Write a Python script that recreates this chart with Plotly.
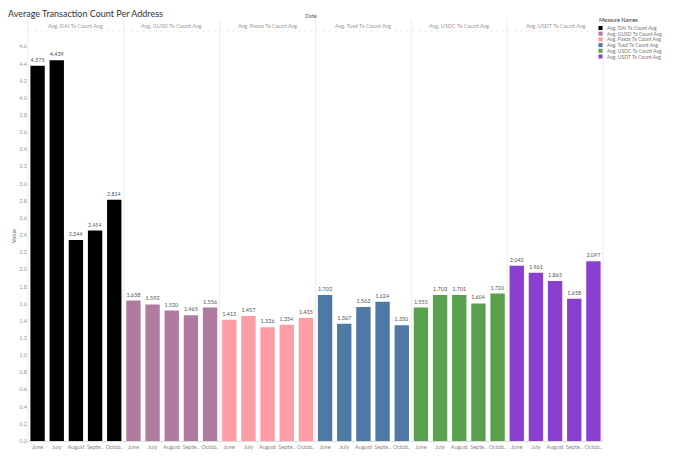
import plotly.graph_objects as go
from plotly.subplots import make_subplots

months = ["June", "July", "August", "Septe..", "Octob.."]
series_names = ["Avg. DAI Tx Count Avg", "Avg. GUSD Tx Count Avg", "Avg. Paxos Tx Count Avg",
                "Avg. Tusd Tx Count Avg", "Avg. USDC Tx Count Avg", "Avg. USDT Tx Count Avg"]
dai = [4.375, 4.439, 2.344, 2.454, 2.814]
gusd = [1.638, 1.592, 1.520, 1.465, 1.556]
paxos = [1.413, 1.457, 1.326, 1.354, 1.435]
tusd = [1.702, 1.367, 1.563, 1.624, 1.350]
usdc = [1.555, 1.703, 1.701, 1.604, 1.720]
usdt = [2.042, 1.961, 1.865, 1.658, 2.097]
values = [dai, gusd, paxos, tusd, usdc, usdt]
colors = ["#000000", "#b07aa1", "#ff9da7", "#4e79a7", "#59a14f", "#8b3fd1"]
y_ticks = [round(0.2 * i, 1) for i in range(24)]

FONT = "Lato, Open Sans, sans-serif"
OFF = 8  # default page body margin offsets the figure by 8px
W, H = 674 - OFF, 464 - OFF
ML, MR, MT, MB = 28 - OFF, 71, 31 - OFF, 23
fig = make_subplots(rows=1, cols=6, shared_yaxes=True, horizontal_spacing=0)

for i, (name, vals, col) in enumerate(zip(series_names, values, colors)):
    fig.add_trace(go.Bar(
        x=months, y=vals, name=name, marker_color=col, marker_line_width=0,
        text=[f"{v:.3f}" for v in vals], textposition="outside",
        textfont=dict(size=5.5, color="#555555", family=FONT),
        cliponaxis=False, showlegend=False,
    ), row=1, col=i + 1)
    fig.update_xaxes(row=1, col=i + 1, type="category", showgrid=False, tickangle=0,
                     tickfont=dict(size=5.5, color="#888888", family=FONT), automargin=False,
                     ticks="", showline=True, linecolor="#dddddd", linewidth=1)

fig.update_yaxes(range=[0, 4.78], tickvals=y_ticks, ticktext=[f"{t:.1f}" for t in y_ticks],
                 showgrid=False, zeroline=False, ticks="", automargin=False,
                 tickfont=dict(size=5.5, color="#999999", family=FONT))
fig.update_yaxes(row=1, col=1, title=dict(text="Value", font=dict(size=6, color="#666666", family=FONT),
                                          standoff=2))

shapes = []
for k in range(7):
    shapes.append(dict(type="line", xref="paper", yref="paper", x0=k / 6, x1=k / 6, y0=0, y1=1.03,
                       line=dict(color="#ececec", width=1)))
shapes.append(dict(type="line", xref="paper", yref="paper", x0=0, x1=1, y0=1.0, y1=1.0,
                   line=dict(color="#eeeeee", width=1, dash="dot")))

annotations = []
for k, name in enumerate(series_names):
    annotations.append(dict(text=name, xref="paper", yref="paper", x=(k + 0.5) / 6, y=1.0,
                            xanchor="center", yanchor="bottom", showarrow=False,
                            font=dict(size=5.5, color="#999999", family=FONT)))

pw, ph = W - ML - MR, H - MT - MB
def px_x(x):
    return (x - OFF - ML) / pw
def px_y(y):
    return (H - MB - (y - OFF)) / ph

annotations.append(dict(text="Date", xref="paper", yref="paper", x=px_x(311), y=px_y(16),
                        xanchor="center", yanchor="middle", showarrow=False,
                        font=dict(size=5.5, color="#555555", family=FONT)))
annotations.append(dict(text="Measure Names", xref="paper", yref="paper", x=px_x(597), y=px_y(20),
                        xanchor="left", yanchor="middle", showarrow=False,
                        font=dict(size=5.5, color="#333333", family=FONT)))
for k, (name, col) in enumerate(zip(series_names, colors)):
    yc = 28 + k * 5.7
    shapes.append(dict(type="rect", xref="paper", yref="paper",
                       x0=px_x(598.5), x1=px_x(602.5), y0=px_y(yc - 2), y1=px_y(yc + 2),
                       fillcolor=col, line=dict(width=0)))
    annotations.append(dict(text=name, xref="paper", yref="paper", x=px_x(605), y=px_y(yc),
                            xanchor="left", yanchor="middle", showarrow=False,
                            font=dict(size=5, color="#777777", family=FONT)))

fig.update_layout(
    width=W, height=H,
    margin=dict(l=ML, r=MR, t=MT, b=MB),
    paper_bgcolor="white", plot_bgcolor="white",
    bargap=0.25, showlegend=False,
    title=dict(text="Average Transaction Count Per Address", x=0.0, xanchor="left",
               y=0.995, yanchor="top", pad=dict(l=0, t=0),
               font=dict(size=9, color="#333333", family=FONT)),
    shapes=shapes, annotations=annotations,
)

fig.write_html("out.html")
